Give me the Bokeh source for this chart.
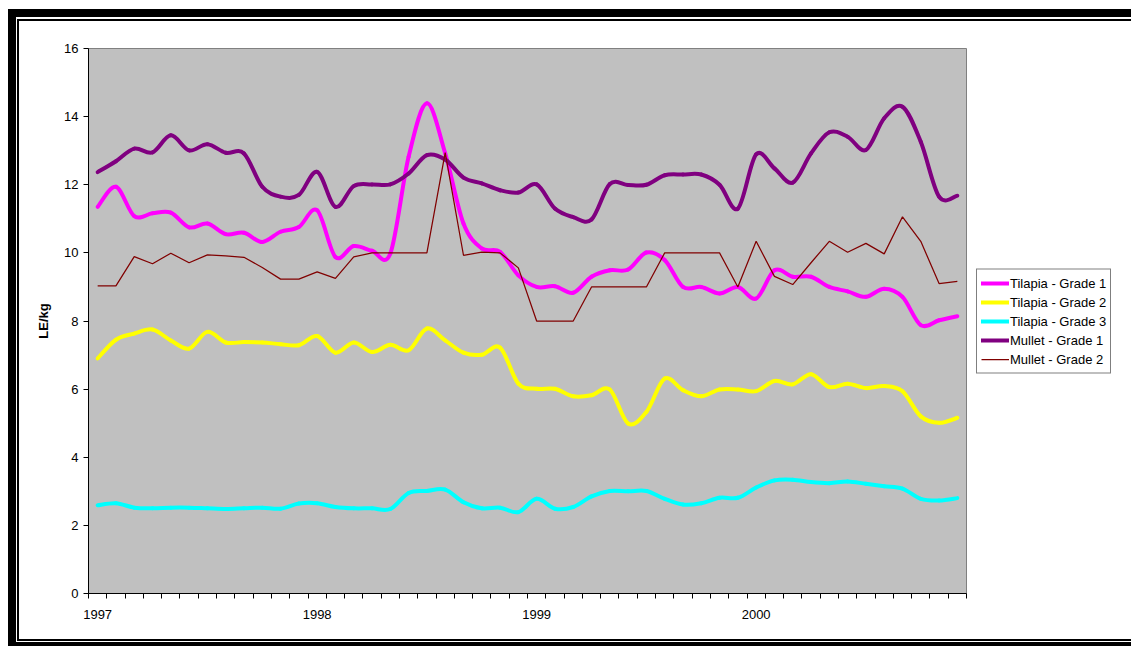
import numpy as np
from bokeh.plotting import figure
from bokeh.models import Range1d, FixedTicker, Legend, LegendItem
from bokeh.embed import file_html
from bokeh.resources import INLINE

# Monthly wholesale fish prices, LE/kg, January 1997 - December 2000
years = ["1997", "1998", "1999", "2000"]
months_per_year = 12

tilapia_g1 = [11.35, 11.94, 11.08, 11.16, 11.18, 10.75, 10.86, 10.55, 10.59, 10.32, 10.62, 10.76,
              11.25, 9.88, 10.20, 10.06, 9.98, 12.82, 14.39, 12.92, 10.86, 10.13, 10.03, 9.34,
              9.00, 9.02, 8.83, 9.30, 9.49, 9.51, 10.01, 9.79, 9.00, 9.00, 8.81, 9.00,
              8.66, 9.49, 9.30, 9.30, 9.00, 8.87, 8.71, 8.95, 8.71, 7.88, 8.02, 8.14]
tilapia_g2 = [6.90, 7.45, 7.63, 7.75, 7.43, 7.19, 7.68, 7.37, 7.38, 7.37, 7.32, 7.29,
              7.56, 7.07, 7.37, 7.09, 7.30, 7.14, 7.78, 7.43, 7.07, 7.01, 7.22, 6.16,
              6.01, 6.01, 5.79, 5.82, 5.99, 4.99, 5.33, 6.31, 5.97, 5.79, 5.99, 5.99,
              5.94, 6.24, 6.14, 6.44, 6.06, 6.16, 6.03, 6.09, 5.94, 5.20, 5.01, 5.16]
tilapia_g3 = [2.59, 2.65, 2.52, 2.50, 2.52, 2.52, 2.50, 2.48, 2.50, 2.52, 2.49, 2.64,
              2.65, 2.54, 2.50, 2.50, 2.48, 2.95, 3.01, 3.05, 2.68, 2.50, 2.52, 2.39,
              2.78, 2.49, 2.54, 2.85, 3.01, 3.00, 3.01, 2.78, 2.61, 2.65, 2.81, 2.81,
              3.11, 3.32, 3.34, 3.27, 3.24, 3.29, 3.22, 3.15, 3.08, 2.78, 2.73, 2.80]
mullet_g1 = [12.37, 12.69, 13.06, 12.95, 13.45, 13.01, 13.19, 12.94, 12.92, 11.94, 11.65, 11.70,
             12.38, 11.35, 11.96, 12.01, 12.01, 12.33, 12.87, 12.74, 12.21, 12.04, 11.84, 11.77,
             12.01, 11.30, 11.05, 10.98, 12.02, 11.99, 12.00, 12.28, 12.30, 12.30, 12.00, 11.30,
             12.89, 12.48, 12.06, 12.92, 13.54, 13.41, 13.02, 13.95, 14.29, 13.26, 11.65, 11.68]
mullet_g2 = [9.03, 9.03, 9.89, 9.68, 9.99, 9.71, 9.94, 9.91, 9.87, 9.57, 9.23, 9.23,
             9.44, 9.25, 9.88, 10.00, 10.00, 10.00, 10.00, 12.94, 9.93, 10.02, 10.00, 9.56,
             8.00, 8.00, 8.00, 9.00, 9.00, 9.00, 9.00, 10.00, 10.00, 10.00, 10.00, 9.00,
             10.34, 9.31, 9.07, 9.71, 10.34, 10.02, 10.28, 9.97, 11.06, 10.34, 9.10, 9.16]

FONT = "Liberation Sans"
n_months = len(years) * months_per_year


def month_x(n):
    # each month sits in the middle of its own category slot
    return np.arange(n) + 0.5


def smooth_segments(values):
    """Cubic Bezier pieces through every point (Catmull-Rom style control points)."""
    y = np.asarray(values, dtype=float)
    x = month_x(len(y))
    n = len(y)
    qx = np.concatenate([[x[0]], x, [x[-1]]])
    qy = np.concatenate([[y[0]], y, [y[-1]]])
    p0x, p0y = qx[1:n], qy[1:n]
    p1x, p1y = qx[2:n + 1], qy[2:n + 1]
    pmx, pmy = qx[0:n - 1], qy[0:n - 1]
    p2x, p2y = qx[3:n + 2], qy[3:n + 2]
    return dict(
        x0=p0x, y0=p0y, x1=p1x, y1=p1y,
        cx0=p0x + (p1x - pmx) / 6.0, cy0=p0y + (p1y - pmy) / 6.0,
        cx1=p1x - (p2x - p0x) / 6.0, cy1=p1y - (p2y - p0y) / 6.0,
    )


p = figure(
    frame_width=878, frame_height=545,
    x_range=Range1d(0, n_months), y_range=Range1d(0, 16),
    output_backend="svg", toolbar_location=None,
    min_border_left=69, min_border_right=161, min_border_top=27, min_border_bottom=46,
    background_fill_color="#C0C0C0", border_fill_color="white",
)
# chart-area frame: thin black rule around the chart, heavy black edge top/left/bottom
p.styles = {
    "margin-left": "19px",
    "margin-top": "21px",
    "outline": "2px solid black",
    "box-shadow": "0.5px -0.5px 0 3.5px white, -1.5px -2.5px 0 9.5px black",
}
p.outline_line_color = "#808080"
p.outline_line_width = 1
p.xgrid.visible = False
p.ygrid.visible = False

# y axis
p.yaxis.ticker = FixedTicker(ticks=list(range(0, 17, 2)))
p.yaxis.major_tick_out = 5
p.yaxis.major_tick_in = 0
p.yaxis.minor_tick_line_color = None
p.yaxis.axis_line_color = "black"
p.yaxis.major_tick_line_color = "black"
p.yaxis.major_label_text_font = FONT
p.yaxis.major_label_text_font_size = "13px"
p.yaxis.major_label_text_color = "black"
p.yaxis.major_label_standoff = 5
p.yaxis.axis_label = "LE/kg"
p.yaxis.axis_label_text_font = FONT
p.yaxis.axis_label_text_font_size = "13px"
p.yaxis.axis_label_text_font_style = "bold"
p.yaxis.axis_label_text_color = "black"
p.yaxis.axis_label_standoff = 10

# x axis: ticks between months, a year label under each January
year_pos = [i * months_per_year + 0.5 for i in range(len(years))]
p.xaxis.ticker = FixedTicker(ticks=year_pos, minor_ticks=list(range(n_months + 1)))
p.xaxis.major_label_overrides = {pos: yr for pos, yr in zip(year_pos, years)}
p.xaxis.major_tick_out = 0
p.xaxis.major_tick_in = 0
p.xaxis.minor_tick_out = 5
p.xaxis.minor_tick_in = 0
p.xaxis.minor_tick_line_color = "black"
p.xaxis.axis_line_color = "black"
p.xaxis.major_label_text_font = FONT
p.xaxis.major_label_text_font_size = "13px"
p.xaxis.major_label_text_color = "black"
p.xaxis.major_label_standoff = 11

smooth_series = [
    ("Tilapia - Grade 1", tilapia_g1, "#FF00FF"),
    ("Tilapia - Grade 2", tilapia_g2, "#FFFF00"),
    ("Tilapia - Grade 3", tilapia_g3, "#00FFFF"),
    ("Mullet - Grade 1", mullet_g1, "#800080"),
]

items = []
for label, vals, color in smooth_series:
    r = p.bezier(source=smooth_segments(vals), x0="x0", y0="y0", x1="x1", y1="y1",
                 cx0="cx0", cy0="cy0", cx1="cx1", cy1="cy1",
                 line_color=color, line_width=4, line_cap="round")
    items.append(LegendItem(label=label, renderers=[r]))

r2 = p.line(month_x(len(mullet_g2)), mullet_g2, line_color="#800000", line_width=1.25)
items.append(LegendItem(label="Mullet - Grade 2", renderers=[r2]))

legend = Legend(
    items=items, location="center_left",
    border_line_color="black", border_line_width=1,
    background_fill_color="white", background_fill_alpha=1,
    label_text_font=FONT, label_text_font_size="13px", label_text_color="black",
    glyph_width=28, glyph_height=19, label_height=19, label_standoff=1,
    spacing=0, padding=4, margin=10,
)
p.add_layout(legend, "right")

open("out.html", "w").write(file_html(p, INLINE))
